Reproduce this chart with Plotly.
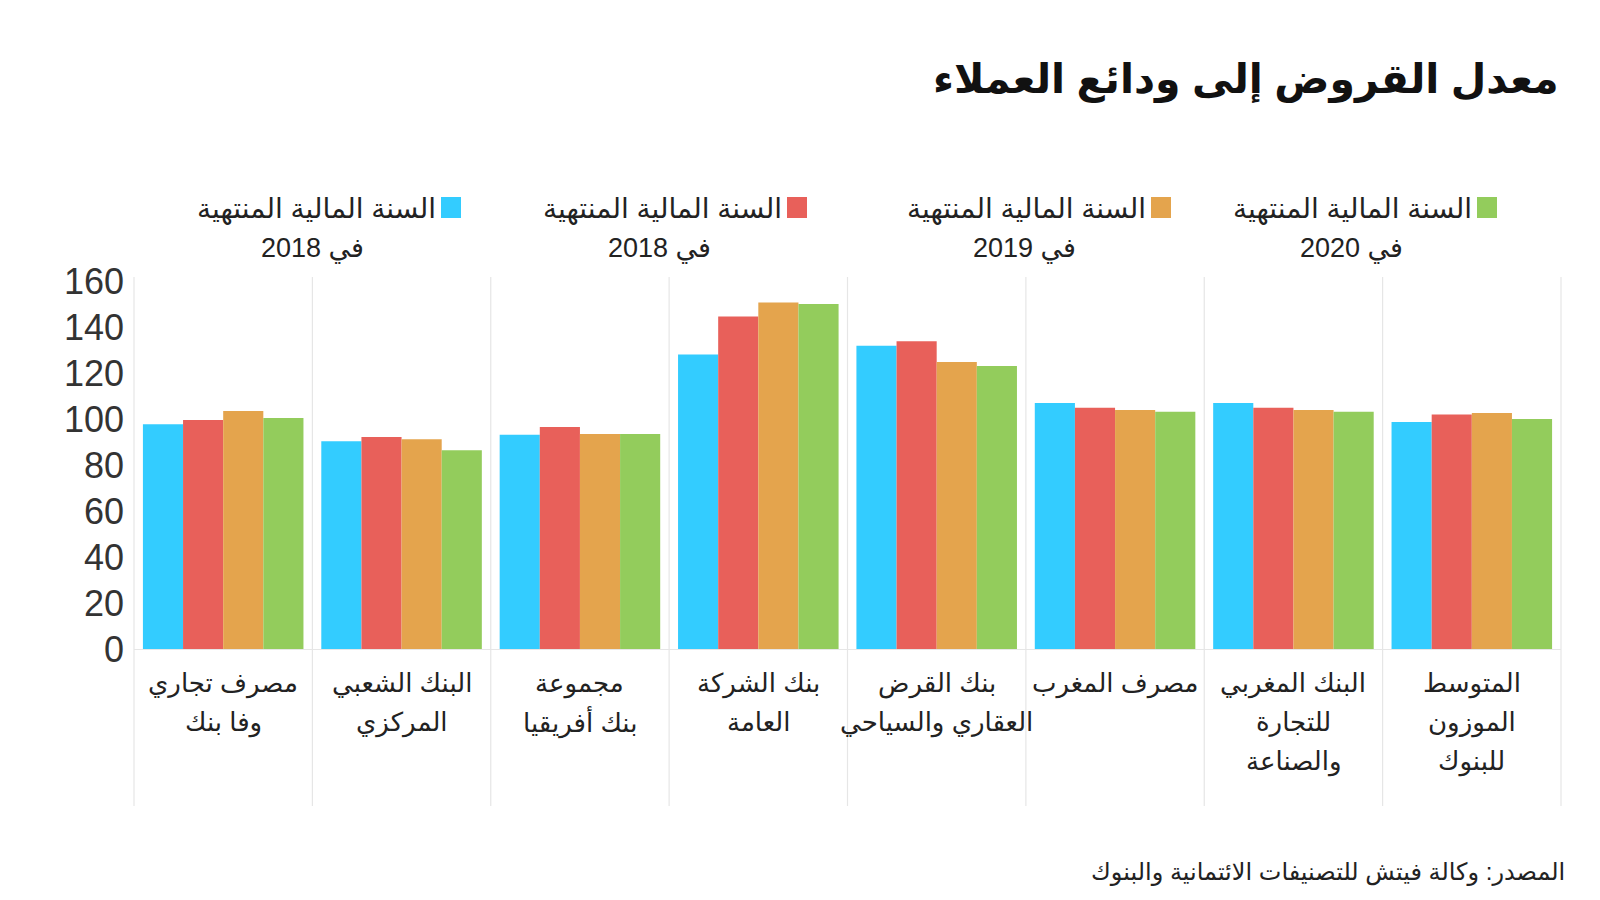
import plotly.graph_objects as go

categories = [
    "مصرف تجاري<br>وفا بنك",
    "البنك الشعبي<br>المركزي",
    "مجموعة<br>بنك أفريقيا",
    "بنك الشركة<br>العامة",
    "بنك القرض<br>العقاري والسياحي",
    "مصرف المغرب",
    "البنك المغربي<br>للتجارة<br>والصناعة",
    "المتوسط<br>الموزون<br>للبنوك",
]

series_line1 = "السنة المالية المنتهية"
series_years = ["في 2018", "في 2018", "في 2019", "في 2020"]

s1_blue = [97.7, 90.3, 93.2, 128.0, 131.9, 107.0, 107.0, 98.7]
s2_red = [99.6, 92.2, 96.5, 144.6, 133.8, 104.9, 104.9, 102.0]
s3_orange = [103.5, 91.2, 93.5, 150.6, 124.8, 103.9, 103.9, 102.6]
s4_green = [100.4, 86.4, 93.5, 150.0, 123.0, 103.2, 103.2, 100.0]

colors = ["#33CCFF", "#E8605A", "#E4A44D", "#93CC5C"]

y_ticks = [0, 20, 40, 60, 80, 100, 120, 140, 160]

FONT = "Liberation Sans, DejaVu Sans, sans-serif"
TXT = "#222222"

W, H = 1600, 900
OFF = 8  # page body margin
ml, mr, mt, mb = 126, 47, 273, 259
pw = W - ml - mr
ph = H - mt - mb


def px_x(page_x):
    return (page_x - OFF - ml) / pw


def px_y(page_y):
    return (H - mb - (page_y - OFF)) / ph


n = len(categories)
xs = list(range(n))

fig = go.Figure()
for line1, yr, vals, col in zip([series_line1] * 4, series_years,
                                [s1_blue, s2_red, s3_orange, s4_green], colors):
    fig.add_trace(go.Bar(x=xs, y=vals, name=line1 + " " + yr,
                         marker=dict(color=col, line=dict(width=0)), showlegend=False))

fig.update_layout(
    width=W, height=H,
    margin=dict(l=ml, r=mr, t=mt, b=mb),
    paper_bgcolor="white", plot_bgcolor="white",
    barmode="group", bargap=0.1, bargroupgap=0,
    font=dict(family=FONT, color=TXT),
    xaxis=dict(tickmode="array", tickvals=xs, showticklabels=False,
               range=[-0.5, n - 0.5], showgrid=False, zeroline=False,
               showline=True, linecolor="#e6e6e6", linewidth=1, ticks=""),
    yaxis=dict(range=[0, 160], tickvals=y_ticks, showgrid=False, zeroline=False,
               showline=False, tickfont=dict(size=36, color="#333333", family=FONT),
               ticks="", ticklabelstandoff=9),
)

# vertical separators between groups
for k in range(n + 1):
    fig.add_shape(type="line", xref="paper", yref="paper",
                  x0=k / n, x1=k / n, y0=px_y(806), y1=px_y(277),
                  line=dict(color="#e6e6e6", width=1.2), layer="below")

# category labels (one annotation per line for exact line spacing)
for i, cat in enumerate(categories):
    for j, line in enumerate(cat.split("<br>")):
        fig.add_annotation(text=line, xref="x", yref="paper", x=i, y=px_y(683 + 39 * j),
                           xanchor="center", yanchor="middle", showarrow=False,
                           font=dict(size=26, color=TXT, family=FONT))

# title
fig.add_annotation(text="<b>معدل القروض إلى ودائع العملاء</b>", xref="paper", yref="paper",
                   x=px_x(1561), y=px_y(80),
                   xanchor="right", yanchor="middle", showarrow=False,
                   font=dict(size=41, color="#111111", family=FONT))

# source
fig.add_annotation(text="المصدر: وكالة فيتش للتصنيفات الائتمانية والبنوك", xref="paper", yref="paper",
                   x=px_x(1567), y=px_y(872),
                   xanchor="right", yanchor="middle", showarrow=False,
                   font=dict(size=24, color="#222222", family=FONT))

# custom legend (square at right of text)
legend_sq_left = [441, 787, 1151, 1477]
legend_l2_center = [312, 659, 1024, 1351]
for yr, col, sq, c2 in zip(series_years, colors, legend_sq_left, legend_l2_center):
    fig.add_annotation(text=series_line1, xref="paper", yref="paper",
                       x=px_x(sq - 3), y=px_y(209),
                       xanchor="right", yanchor="middle",
                       showarrow=False, font=dict(size=28, color=TXT, family=FONT))
    fig.add_annotation(text=yr, xref="paper", yref="paper",
                       x=px_x(c2), y=px_y(248),
                       xanchor="center", yanchor="middle",
                       showarrow=False, font=dict(size=27, color=TXT, family=FONT))
    fig.add_shape(type="rect", xref="paper", yref="paper",
                  x0=px_x(sq), x1=px_x(sq + 20),
                  y0=px_y(218), y1=px_y(197),
                  fillcolor=col, line=dict(width=0))

fig.write_html("out.html")
